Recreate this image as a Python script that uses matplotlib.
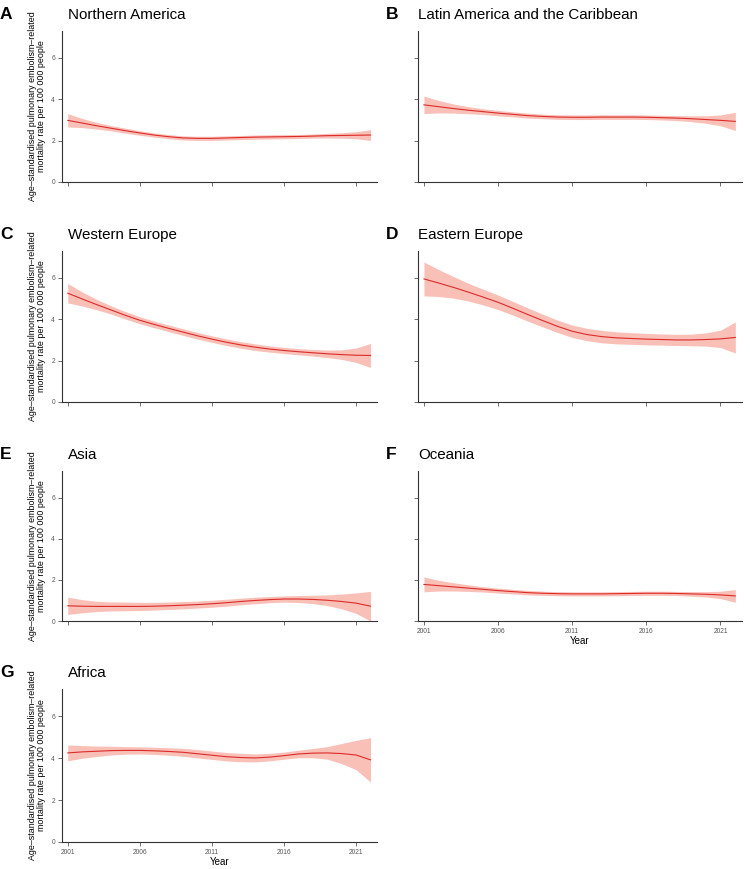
import numpy as np
import matplotlib
matplotlib.use("Agg")
import matplotlib.pyplot as plt

plt.rcParams['font.family'] = ['Liberation Sans', 'DejaVu Sans']

years = list(range(2001, 2023))

regions = ["Northern America", "Latin America and the Caribbean", "Western Europe",
           "Eastern Europe", "Asia", "Oceania", "Africa"]
letters = ["A", "B", "C", "D", "E", "F", "G"]

# smoothed rate per 100 000
north_america = [2.98, 2.85, 2.72, 2.60, 2.48, 2.37, 2.27, 2.19, 2.13, 2.11, 2.11,
                 2.13, 2.15, 2.17, 2.18, 2.19, 2.20, 2.22, 2.24, 2.25, 2.26, 2.27]
latin_america = [3.73, 3.64, 3.55, 3.47, 3.40, 3.33, 3.27, 3.21, 3.17, 3.14, 3.13,
                 3.13, 3.14, 3.14, 3.14, 3.13, 3.11, 3.09, 3.06, 3.02, 2.98, 2.93]
western_europe = [5.26, 4.98, 4.71, 4.45, 4.19, 3.95, 3.75, 3.56, 3.38, 3.20, 3.04,
                  2.89, 2.76, 2.65, 2.56, 2.49, 2.43, 2.38, 2.33, 2.29, 2.26, 2.25]
eastern_europe = [5.95, 5.75, 5.54, 5.31, 5.07, 4.82, 4.53, 4.23, 3.94, 3.66, 3.42,
                  3.26, 3.16, 3.10, 3.07, 3.04, 3.02, 3.00, 3.00, 3.02, 3.05, 3.12]
asia = [0.74, 0.72, 0.71, 0.71, 0.71, 0.71, 0.72, 0.74, 0.77, 0.80, 0.84,
        0.89, 0.95, 1.00, 1.04, 1.07, 1.07, 1.05, 1.01, 0.95, 0.87, 0.72]
oceania = [1.78, 1.72, 1.66, 1.60, 1.54, 1.48, 1.43, 1.38, 1.35, 1.33, 1.32,
           1.32, 1.32, 1.33, 1.34, 1.35, 1.35, 1.34, 1.32, 1.30, 1.27, 1.22]
africa = [4.25, 4.30, 4.33, 4.36, 4.37, 4.37, 4.35, 4.32, 4.28, 4.21, 4.14,
          4.07, 4.03, 4.01, 4.05, 4.12, 4.20, 4.24, 4.25, 4.22, 4.15, 3.92]

# half width of 95% CI ribbon
ci_north_america = [0.32, 0.22, 0.16, 0.13, 0.12, 0.11, 0.10, 0.10, 0.10, 0.10, 0.10,
                    0.10, 0.10, 0.10, 0.10, 0.10, 0.10, 0.10, 0.11, 0.13, 0.17, 0.26]
ci_latin_america = [0.42, 0.30, 0.22, 0.17, 0.14, 0.13, 0.12, 0.12, 0.11, 0.11, 0.11,
                    0.11, 0.11, 0.11, 0.11, 0.11, 0.11, 0.12, 0.14, 0.18, 0.26, 0.44]
ci_western_europe = [0.47, 0.34, 0.25, 0.20, 0.18, 0.17, 0.16, 0.16, 0.16, 0.16, 0.16,
                     0.16, 0.16, 0.16, 0.15, 0.15, 0.15, 0.16, 0.18, 0.23, 0.35, 0.58]
ci_eastern_europe = [0.82, 0.65, 0.52, 0.43, 0.38, 0.35, 0.33, 0.32, 0.31, 0.30, 0.30,
                     0.30, 0.30, 0.29, 0.28, 0.28, 0.27, 0.27, 0.28, 0.32, 0.42, 0.75]
ci_asia = [0.42, 0.32, 0.25, 0.22, 0.21, 0.20, 0.19, 0.18, 0.18, 0.17, 0.17,
           0.17, 0.16, 0.16, 0.15, 0.15, 0.17, 0.20, 0.26, 0.36, 0.50, 0.72]
ci_oceania = [0.36, 0.26, 0.20, 0.16, 0.13, 0.12, 0.11, 0.11, 0.10, 0.10, 0.10,
              0.10, 0.10, 0.10, 0.10, 0.10, 0.10, 0.10, 0.11, 0.13, 0.18, 0.31]
ci_africa = [0.38, 0.30, 0.25, 0.21, 0.18, 0.17, 0.17, 0.18, 0.19, 0.20, 0.20,
             0.20, 0.20, 0.19, 0.18, 0.17, 0.18, 0.22, 0.30, 0.48, 0.70, 1.06]

values = [north_america, latin_america, western_europe, eastern_europe, asia, oceania, africa]
cis = [ci_north_america, ci_latin_america, ci_western_europe, ci_eastern_europe,
       ci_asia, ci_oceania, ci_africa]

ylabel = "Age\u2013standardised pulmonary embolism\u2013related\nmortality rate per 100 000 people"

W, H = 750, 869
fig = plt.figure(figsize=(W / 100, H / 100), dpi=100)

col_x = [(62, 377), (418, 742)]
row_y = [(31, 182), (251, 402), (471, 621), (689, 842)]
title_dx = [6, 0]
letter_x = [0, 386]

for i, region in enumerate(regions):
    r, c = divmod(i, 2)
    x0, x1 = col_x[c]
    y0, y1 = row_y[r]
    ax = fig.add_axes([x0 / W, 1 - y1 / H, (x1 - x0) / W, (y1 - y0) / H])
    v = np.array(values[i])
    ci = np.array(cis[i])
    ax.fill_between(years, v - ci, v + ci, color="#F8B5AC", alpha=0.85, lw=0)
    ax.plot(years, v, color="#DC2B28", lw=0.8)
    ax.set_xlim(2000.6, 2022.45)
    ax.set_ylim(0, 7.3)
    ax.set_xticks([2001, 2006, 2011, 2016, 2021])
    ax.set_yticks([0, 2, 4, 6])
    for s in ["top", "right"]:
        ax.spines[s].set_visible(False)
    for s in ["left", "bottom"]:
        ax.spines[s].set_color("#333333")
        ax.spines[s].set_linewidth(0.8)
    ax.tick_params(length=3, width=0.6, color="#555555", labelsize=4.8,
                   labelcolor="#555555", pad=2)
    if c == 0:
        ax.set_ylabel(ylabel, fontsize=6.4, labelpad=4, linespacing=1.0)
    else:
        ax.set_yticklabels([])
    if i in (5, 6):
        ax.set_xlabel("Year", fontsize=7, labelpad=1)
    else:
        ax.set_xticklabels([])
    fig.text((x0 + title_dx[c]) / W, 1 - (y0 - 12) / H, region, fontsize=10.9,
             ha="left", va="baseline")
    fig.text(letter_x[c] / W, 1 - (y0 - 12) / H, letters[i],
             fontsize=12.5, fontweight="bold", ha="left", va="baseline")

fig.savefig("out.png", dpi=100)
